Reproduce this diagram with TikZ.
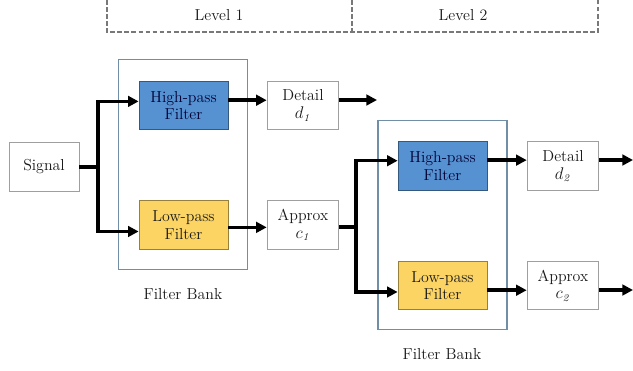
\documentclass[tikz,border=0pt]{standalone}
\usepackage{xcolor}
\usepackage{tikz}
\usetikzlibrary{arrows.meta,positioning,calc}

\definecolor{hpblue}{RGB}{86,146,210}
\definecolor{lpyellow}{RGB}{252,212,100}
\definecolor{bankline}{RGB}{112,142,166}
\definecolor{dashgray}{RGB}{120,120,120}

\tikzset{
  box/.style={draw=gray!75, fill=white, line width=0.7pt, minimum width=61pt,
    minimum height=41pt, align=center, inner sep=1pt,
    font=\fontsize{13.5}{15}\selectfont, text=black!90},
  filt/.style={box, minimum width=75.6pt},
  hp/.style={filt, fill=hpblue, draw=hpblue!60!black, text=blue!20!black},
  lp/.style={filt, fill=lpyellow, draw=lpyellow!60!black},
  bank/.style={draw=bankline, line width=1pt, minimum width=110pt, minimum height=178pt},
  lbl/.style={font=\fontsize{13.5}{15}\selectfont, text=black!90},
  bracket/.style={draw=dashgray, line width=1pt, dash pattern=on 4pt off 2pt},
  flow/.style={line width=3pt, -{Triangle[length=9pt,width=9pt]}},
  wire/.style={line width=3pt}
}

\begin{document}
\begin{tikzpicture}[x=0.85pt, y=-0.85pt]
\useasboundingbox (0,0) rectangle (633,370);

% Levels
\draw[bracket] (107,0) -- (107,32) -- (598,32) -- (598,0);
\draw[bracket] (352,0) -- (352,32);
\node[lbl] (lvla) at (219,15) {Level 1};
\node[lbl] (lvlb) at (463,15) {Level 2};

% Filter banks
\node[bank] (fba) at (183,164.5) {};
\node[bank, minimum width=109.6pt] (fbb) at (442.5,225) {};
\node[lbl] (fbla) at (183,294) {Filter Bank};
\node[lbl] (fblb) at (442,354) {Filter Bank};

% Level 1
\node[box, minimum width=59.5pt] (sig) at (44,167) {Signal};
\node[hp] (hpa) at (183.5,105.5) {High-pass\\Filter};
\node[lp] (lpa) at (183.5,225) {Low-pass\\Filter};
\node[box] (dta) at (303,105.5) {Detail\\$d_{\mathit{1}}$};
\node[box] (apa) at (303,225) {Approx\\$c_{\mathit{1}}$};

% Level 2
\node[hp] (hpb) at (442.5,166) {High-pass\\Filter};
\node[lp] (lpb) at (442.5,285.5) {Low-pass\\Filter};
\node[box] (dtb) at (563,166) {Detail\\$d_{\mathit{2}}$};
\node[box] (apb) at (563,285.5) {Approx\\$c_{\mathit{2}}$};

% Branch points and free ends
\coordinate (bra) at (98,167);
\coordinate (brb) at (356,227);
\coordinate (outa) at (377,100);
\coordinate (outb) at (633,160);
\coordinate (outc) at (633,290);

% Connectors
\draw[wire] (sig.east) -- (sig.east -| bra);
\draw[flow] (bra) |- ([yshift=3.5pt]hpa.west);
\draw[flow] (bra) |- ([yshift=-5.5pt]lpa.west);
\draw[flow] ([yshift=4.5pt]hpa.east) -- ([yshift=4.5pt]dta.west);
\draw[flow] ([yshift=-2pt]lpa.east) -- ([yshift=-2pt]apa.west);
\draw[flow] (dta.east |- outa) -- (outa);
\draw[wire] (apa.east |- brb) -- (brb);
\draw[flow] (brb) |- ([yshift=4.5pt]hpb.west);
\draw[flow] (brb) |- ([yshift=-5.5pt]lpb.west);
\draw[flow] ([yshift=5pt]hpb.east) -- ([yshift=5pt]dtb.west);
\draw[flow] ([yshift=-4pt]lpb.east) -- ([yshift=-4pt]apb.west);
\draw[flow] (dtb.east |- outb) -- (outb);
\draw[flow] (apb.east |- outc) -- (outc);
\end{tikzpicture}
\end{document}
